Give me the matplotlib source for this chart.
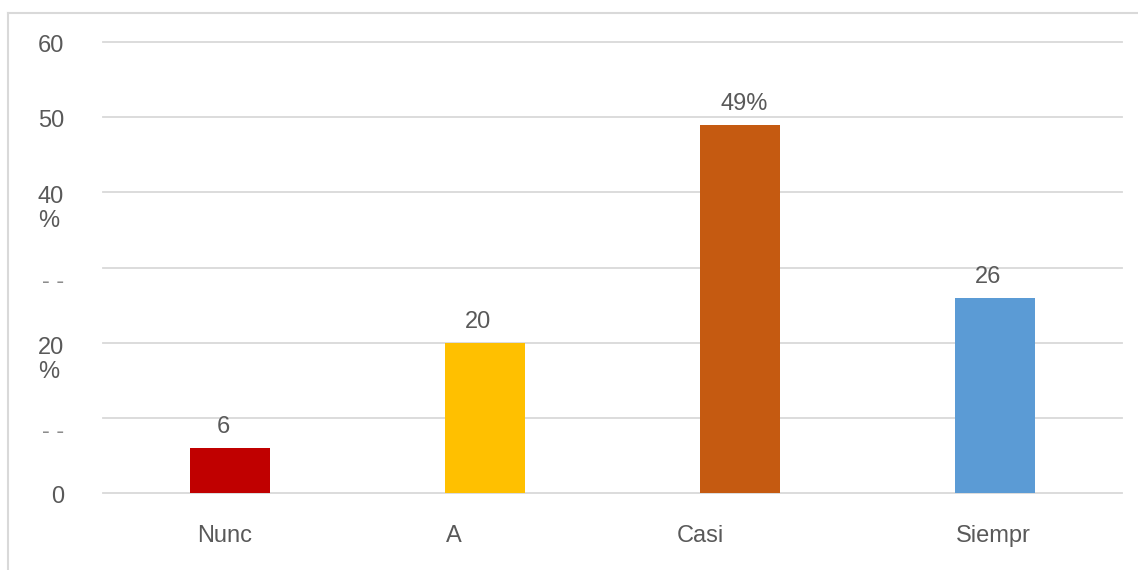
import matplotlib.pyplot as plt
import matplotlib.transforms as mtransforms
from matplotlib.lines import Line2D

# respuestas por categoria (%)
categories = ["Nunc", "A", "Casi", "Siempr"]
values = [6, 20, 49, 26]
value_labels = ["6", "20", "49%", "26"]
colors = ["#C00000", "#FFC000", "#C55A11", "#5B9BD5"]
yticks = [0, 10, 20, 30, 40, 50, 60]
ytick_labels = ["0", "- -", "20\n%", "- -", "40\n%", "50", "60"]

plt.rcParams['font.family'] = ['Liberation Sans', 'DejaVu Sans']
txt = '#595959'
fs = 17
W, H = 1138, 570

fig = plt.figure(figsize=(W / 100, H / 100), dpi=100)
ax = fig.add_axes([103 / W, 1 - 493 / H, 1019 / W, 451 / H])

x = list(range(len(categories)))
bars = ax.bar(x, values, width=0.314, color=colors, zorder=3)
ax.set_xlim(-0.5, 3.5)
ax.set_ylim(0, 60)
ax.set_axisbelow(True)
ax.grid(axis='y', color='#d9d9d9', linewidth=1.3)
for gl in ax.get_ygridlines():
    gl.set_clip_on(False)
for s in ax.spines.values():
    s.set_visible(False)

ax.set_yticks(yticks)
ax.set_yticklabels(ytick_labels)
ax.set_xticks(x)
ax.set_xticklabels(categories)
ax.tick_params(length=0, labelsize=fs, labelcolor=txt)
ax.tick_params(axis='y', pad=28)
ax.tick_params(axis='x', pad=23)

def shift(t, dx, dy):
    # desplazamiento en pixeles
    t.set_transform(t.get_transform() + mtransforms.ScaledTranslation(dx / 100, dy / 100, fig.dpi_scale_trans))

for lab in ax.get_yticklabels():
    lab.set_multialignment('left')
    lab.set_linespacing(1.12)
    if lab.get_text().startswith('-'):
        lab.set_va('center')
        lab.set_color('#8c8c8c')
        shift(lab, 0, -14)
    elif '\n' in lab.get_text():
        lab.set_va('top')
        shift(lab, 0, 6)
    else:
        lab.set_va('top')
        shift(lab, 0, 7)

for lab, dx in zip(ax.get_xticklabels(), [-6, -31, -39, -1]):
    shift(lab, dx, 0)

# etiquetas de valor sobre cada barra
for b, v, lab in zip(bars, values, value_labels):
    dx = 4 if lab.endswith('%') else -7
    ax.annotate(lab, (b.get_x() + b.get_width() / 2, v), xytext=(dx * 0.72, 15 * 0.72),
                textcoords='offset points', ha='center', va='baseline', fontsize=fs, color=txt)

# marco exterior
fx, fy = 8 / W, 1 - 13 / H
fig.add_artist(Line2D([fx, 1], [fy, fy], transform=fig.transFigure, color='#d9d9d9', lw=1.5))
fig.add_artist(Line2D([fx, fx], [fy, 0], transform=fig.transFigure, color='#d9d9d9', lw=1.5))

fig.savefig('out.png', dpi=100)
